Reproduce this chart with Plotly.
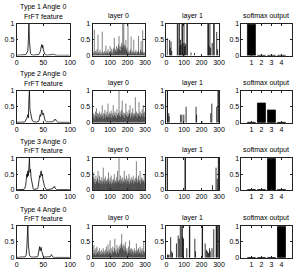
import plotly.graph_objects as go

W, H = 298, 269

row_titles = ["Type 1 Angle 0", "Type 2 Angle 0", "Type 3 Angle 0", "Type 4 Angle 0"]
col_titles = ["FrFT feature", "layer 0", "layer 1", "softmax output"]

# ---------------- FrFT feature (100 samples) ----------------
frft_1 = [0.01,0.01,0.02,0.01,0.01,0.02,0.01,0.01,0.02,0.01,0.01,0.02,0.01,0.02,0.01,0.02,
          0.02,0.03,0.05,0.08,0.10,0.15,0.50,1.00,0.45,0.12,0.06,0.04,0.03,0.02,
          0.02,0.01,0.02,0.02,0.01,0.02,0.02,0.01,0.02,0.02,0.02,
          0.03,0.05,0.08,0.12,0.20,0.30,0.35,0.25,0.32,0.18,0.10,0.06,0.04,0.03,
          0.02,0.02,0.02,0.01,0.02,0.02,0.02,0.01,0.02,0.02,0.02,
          0.03,0.05,0.06,0.05,0.03,
          0.02,0.01,0.02,0.01,0.01,0.02,0.01,0.01,0.01,0.02,0.01,0.01,0.01,0.01,0.02,0.01,0.01,0.01,0.01,0.01,0.01,0.02,0.01,0.01,0.01,0.01,0.01,0.01,0.01]
frft_2 = [0.01,0.01,0.02,0.01,0.01,0.02,0.01,0.01,0.02,0.01,0.01,0.02,0.01,0.02,0.01,
          0.02,0.04,0.08,0.12,0.10,0.18,0.25,0.15,0.75,1.00,0.40,0.30,0.20,0.12,0.08,0.05,0.03,
          0.02,0.02,0.02,0.01,0.02,0.02,0.02,0.02,0.03,
          0.04,0.08,0.15,0.25,0.20,0.30,0.40,0.32,0.25,0.30,0.20,0.12,0.08,0.05,
          0.03,0.02,0.03,0.02,0.02,0.03,0.02,0.02,0.03,0.02,0.02,0.03,0.02,0.03,
          0.04,0.07,0.10,0.08,0.10,0.06,0.03,
          0.02,0.01,0.01,0.02,0.01,0.01,0.01,0.01,0.02,0.01,0.01,0.01,0.01,0.01,0.02,0.01,0.01,0.01,0.01,0.01,0.01,0.01,0.01,0.01]
frft_3 = [0.01,0.01,0.02,0.01,0.01,0.02,0.01,0.02,0.01,0.01,0.02,0.01,0.02,0.01,
          0.02,0.04,0.08,0.15,0.30,0.50,0.40,0.60,0.45,0.70,1.00,0.55,0.65,0.40,0.30,0.15,0.08,0.04,
          0.02,0.02,0.03,0.02,0.02,0.02,0.03,
          0.04,0.08,0.15,0.30,0.45,0.40,0.55,0.60,0.45,0.50,0.35,0.30,0.20,0.12,0.06,0.03,
          0.02,0.02,0.03,0.02,0.02,0.02,0.03,0.02,0.02,0.02,0.03,0.02,
          0.04,0.07,0.10,0.08,0.11,0.06,0.03,
          0.02,0.01,0.01,0.02,0.01,0.01,0.01,0.02,0.01,0.01,0.01,0.01,0.02,0.01,0.01,0.01,0.01,0.01,0.01,0.02,0.01,0.01,0.01,0.01,0.01,0.01]
frft_4 = [0.01,0.01,0.02,0.01,0.01,0.02,0.01,0.01,0.02,0.01,0.01,0.02,0.01,0.01,0.02,
          0.02,0.03,0.05,0.10,0.30,0.70,1.00,0.40,0.15,0.08,0.05,0.03,
          0.02,0.02,0.02,0.01,0.02,0.02,0.02,0.02,0.01,0.02,0.02,0.02,
          0.03,0.06,0.12,0.25,0.35,0.22,0.30,0.33,0.20,0.10,0.05,0.03,
          0.02,0.02,0.02,0.01,0.02,0.02,0.02,0.02,0.01,0.02,0.02,0.02,
          0.03,0.06,0.10,0.07,0.04,
          0.02,0.01,0.01,0.02,0.01,0.01,0.01,0.01,0.02,0.01,0.01,0.01,0.01,0.01,0.02,0.01,
          0.01,0.01,0.01,0.02,0.01,0.01,0.01,0.01,0.01,0.02,0.01,0.01,0.01,0.01,0.01,0.01]

# ---------------- layer 0 activations (sampled every 3 units over 0..300) ----------------
layer0_1 = [0.05,0.12,0.03,0.82,0.08,0.15,0.02,0.1,0.2,0.05,0.66,0.08,0.12,0.03,0.18,0.06,0.1,0.04,0.76,0.12,
            0.05,0.09,0.15,0.03,0.1,0.32,0.06,0.14,0.08,0.2,0.05,0.12,0.1,0.3,0.15,0.08,0.22,0.12,0.05,0.18,
            0.25,0.56,0.1,0.2,0.15,0.3,0.12,0.25,0.18,0.35,0.62,0.2,0.28,0.15,0.32,0.4,0.25,1.0,0.3,1.0,
            0.35,0.22,0.3,0.5,0.18,0.25,0.12,1.0,0.08,0.15,0.05,0.12,0.2,0.6,0.1,0.05,0.15,0.08,0.5,0.12,
            0.06,0.1,0.18,0.04,0.12,0.08,0.15,0.62,0.1,0.05,0.12,0.2,0.46,0.08,0.15,0.8,0.1,0.06,0.12,0.05]
layer0_2 = [0.2,0.3,0.15,0.25,0.1,0.35,0.22,0.45,0.18,0.3,0.12,0.28,0.2,0.35,0.15,0.25,0.3,0.18,0.55,0.22,
            0.12,0.3,0.25,0.4,0.15,0.28,0.2,0.35,0.18,0.6,0.25,0.15,0.32,0.2,0.28,0.38,0.15,0.3,0.22,0.55,
            0.18,0.25,0.35,0.2,0.3,0.15,0.42,0.25,0.2,0.3,1.0,0.22,0.35,0.18,0.28,0.4,0.7,0.25,0.2,0.32,
            0.15,0.3,0.25,0.6,0.2,0.35,0.18,0.28,0.22,0.4,0.3,0.55,0.15,0.25,0.32,0.2,0.45,0.28,0.18,0.3,
            0.22,0.8,0.25,0.35,0.15,0.3,0.2,0.28,0.65,0.22,0.35,0.18,0.3,0.25,0.42,0.2,0.55,0.3,0.18,0.35]
layer0_3 = [0.3,0.4,0.55,0.25,0.35,0.2,0.45,0.3,0.25,0.38,0.6,0.22,0.3,0.45,0.2,0.32,0.25,0.4,0.18,0.3,
            0.7,0.25,0.35,0.2,0.42,0.28,0.3,0.18,0.35,0.25,0.55,0.3,0.2,0.38,0.25,0.45,0.18,0.3,0.22,0.35,
            0.28,0.5,0.2,0.3,0.25,0.4,0.22,0.6,0.3,0.25,1.0,0.32,0.2,0.45,0.28,0.35,0.2,0.4,0.25,0.3,
            0.6,0.22,0.35,0.28,0.45,0.2,0.3,0.38,0.25,0.5,0.18,0.32,0.28,0.4,0.22,0.35,0.3,0.45,0.2,0.28,
            0.35,0.25,0.4,0.9,0.3,0.22,0.35,0.45,0.25,0.3,0.6,0.2,0.32,0.4,0.25,0.35,0.28,0.3,0.5,0.22]
layer0_4 = [0.2,0.1,0.4,0.15,0.25,0.08,0.3,0.12,0.35,0.18,0.1,0.22,0.15,0.3,0.08,0.2,0.12,0.25,0.1,0.18,
            0.3,0.12,0.2,0.08,0.25,0.15,0.35,0.1,0.2,0.42,0.12,0.25,0.18,0.55,0.15,0.3,0.1,0.22,0.35,0.15,
            0.2,0.3,0.6,0.18,0.25,0.12,0.4,0.2,0.3,0.15,0.35,0.25,0.4,0.3,0.45,0.75,0.3,0.38,0.25,0.42,
            0.2,0.35,0.5,0.25,0.18,0.3,0.12,0.22,0.35,0.15,0.55,0.2,0.28,0.12,0.3,0.18,0.25,0.1,0.2,0.3,
            0.15,0.22,0.12,0.45,0.18,0.25,0.1,0.3,0.2,0.15,0.35,0.12,0.25,0.18,0.3,0.1,0.22,0.5,0.15,0.2]

# ---------------- layer 1 activations (sparse: unit index, value) ----------------
layer1_pos_1 = [4,18,22,26,30,62,66,74,76,80,84,89,91,95,100,102,106,110,117,119,140,160,200,236,240,244,248,252,261,270,272,287,292]
layer1_val_1 = [0.55,0.5,0.25,0.45,0.15,1.0,1.0,1.0,0.3,0.5,0.35,1.0,1.0,0.4,1.0,0.3,0.4,0.35,1.0,1.0,0.1,0.08,0.05,1.0,1.0,0.3,1.0,0.25,0.4,1.0,1.0,0.75,0.2]
layer1_pos_2 = [4,6,13,15,81,88,99,112,169,172,206,253,259,287,294,298]
layer1_val_2 = [1.0,1.0,0.3,0.2,0.25,0.25,0.25,0.5,0.5,0.25,0.03,0.3,0.6,0.5,1.0,1.0]
layer1_pos_3 = [3,5,106,108,263,283,290,296,299]
layer1_val_3 = [1.0,1.0,1.0,1.0,0.15,0.7,0.35,1.0,1.0]
layer1_pos_4 = [6,10,14,24,30,34,57,67,73,79,88,90,93,97,116,131,133,162,166,204,206,221,228,234,240,246,250,260,270,284,286,291,298]
layer1_val_4 = [0.1,0.08,0.1,0.65,0.2,0.15,0.45,0.7,0.6,1.0,1.0,1.0,0.65,0.6,0.3,1.0,1.0,0.6,0.2,1.0,1.0,0.45,0.25,0.2,0.15,0.3,0.2,0.3,0.9,1.0,1.0,1.0,1.0]

# ---------------- softmax output ----------------
classes = [1, 2, 3, 4]
softmax_1 = [0.99, 0.01, 0.01, 0.01]
softmax_2 = [0.01, 0.62, 0.40, 0.01]
softmax_3 = [0.01, 0.01, 0.99, 0.01]
softmax_4 = [0.005, 0.005, 0.005, 0.99]

frft = [frft_1, frft_2, frft_3, frft_4]
layer0 = [layer0_1, layer0_2, layer0_3, layer0_4]
layer1_pos = [layer1_pos_1, layer1_pos_2, layer1_pos_3, layer1_pos_4]
layer1_val = [layer1_val_1, layer1_val_2, layer1_val_3, layer1_val_4]
softmax = [softmax_1, softmax_2, softmax_3, softmax_4]

# ---------------- layout geometry (pixels) ----------------
col_px = [(15, 70), (93, 147), (169, 223), (246, 297.5)]
row_px = [(20.5, 53), (89.3, 121.8), (158.2, 191), (228, 260.5)]
FONT = "Liberation Sans, Arial, sans-serif"


def stems(xs, ys):
    sx, sy = [], []
    for x, y in zip(xs, ys):
        sx += [x, x, None]
        sy += [0, y, None]
    return sx, sy


fig = go.Figure()
layout = {}
annotations = []

for r in range(4):
    for c in range(4):
        k = r * 4 + c + 1
        xa = "x" if k == 1 else f"x{k}"
        ya = "y" if k == 1 else f"y{k}"
        xname = "xaxis" if k == 1 else f"xaxis{k}"
        yname = "yaxis" if k == 1 else f"yaxis{k}"
        x0, x1 = col_px[c]
        top, bot = row_px[r]
        common = dict(showline=True, linecolor="#222", linewidth=0.7, mirror="ticks",
                      ticks="inside", ticklen=2, tickwidth=0.7, tickcolor="#222",
                      showgrid=False, zeroline=False, fixedrange=True,
                      tickfont=dict(family=FONT, size=7, color="#000"))
        if c == 0:
            xr, xt = [0, 100], [0, 50, 100]
            ys = frft[r]
            fig.add_trace(go.Scatter(x=list(range(len(ys))), y=ys, mode="lines",
                                     line=dict(color="black", width=0.8),
                                     xaxis=xa, yaxis=ya, showlegend=False))
        elif c == 1:
            xr, xt = [0, 300], [0, 100, 200, 300]
            vals = layer0[r]
            step = 300 / len(vals)
            xs = [step * i + step / 2 for i in range(len(vals))]
            sx, sy = stems(xs, vals)
            fig.add_trace(go.Scatter(x=sx, y=sy, mode="lines",
                                     line=dict(color="black", width=0.5),
                                     xaxis=xa, yaxis=ya, showlegend=False))
        elif c == 2:
            xr, xt = [0, 300], [0, 100, 200, 300]
            sx, sy = stems(layer1_pos[r], layer1_val[r])
            fig.add_trace(go.Scatter(x=sx, y=sy, mode="lines",
                                     line=dict(color="black", width=0.8),
                                     xaxis=xa, yaxis=ya, showlegend=False))
        else:
            xr, xt = [0, 5], classes
            fig.add_trace(go.Bar(x=classes, y=softmax[r], width=0.8,
                                 marker=dict(color="black", line=dict(color="black", width=0.7)),
                                 xaxis=xa, yaxis=ya, showlegend=False))
        layout[xname] = dict(common, domain=[x0 / W, x1 / W], range=xr,
                             tickvals=xt, ticktext=[str(t) for t in xt], anchor=ya)
        layout[yname] = dict(common, domain=[1 - bot / H, 1 - top / H], range=[0, 1],
                             tickvals=[0, 0.5, 1], ticktext=["0", "0.5", "1"], anchor=xa)
        annotations.append(dict(text=col_titles[c], x=(x0 + x1) / 2 / W, y=1 - (top - 8) / H,
                                xref="paper", yref="paper", xanchor="center", yanchor="middle",
                                showarrow=False, font=dict(family=FONT, size=7, color="#000")))
    x0, x1 = col_px[0]
    top = row_px[r][0]
    annotations.append(dict(text=row_titles[r], x=(x0 + x1) / 2 / W, y=1 - (top - 17) / H,
                            xref="paper", yref="paper", xanchor="center", yanchor="middle",
                            showarrow=False, font=dict(family=FONT, size=7, color="#000")))

fig.update_layout(**layout)
fig.update_layout(width=W, height=H, margin=dict(l=0, r=0, t=0, b=0),
                  paper_bgcolor="white", plot_bgcolor="white",
                  annotations=annotations, bargap=0.2)

fig.write_html("out.html", config={"displayModeBar": False})
